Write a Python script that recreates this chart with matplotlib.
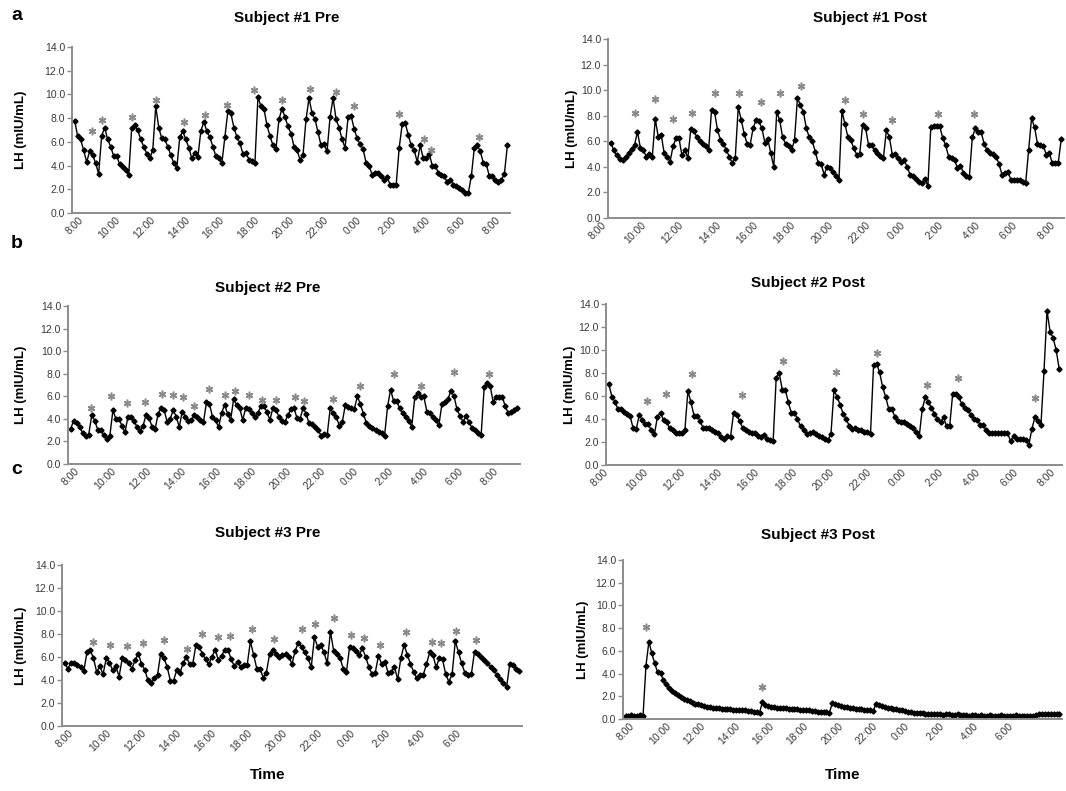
import matplotlib

matplotlib.use("Agg")
import matplotlib.pyplot as plt
import matplotlib.transforms as mtransforms
import numpy as np

plt.rcParams["font.family"] = ["Liberation Sans", "DejaVu Sans"]

# LH (mIU/mL), one sample about every 10 min from 8:00
S1_PRE = [7.8, 6.5, 6.2, 5.3, 4.3, 5.2, 4.9, 4.2, 3.3, 6.5,
          7.2, 6.2, 5.6, 4.8, 4.8, 4.1, 3.9, 3.6, 3.2, 7.2,
          7.4, 7.0, 6.2, 5.6, 5.0, 4.6, 5.3, 9.0, 7.2, 6.3,
          6.2, 5.6, 4.9, 4.2, 3.8, 6.4, 6.9, 6.2, 5.5, 4.6,
          5.1, 4.7, 6.9, 7.7, 6.9, 6.4, 5.6, 4.8, 4.6, 4.2,
          6.4, 8.6, 8.4, 7.2, 6.4, 5.9, 5.0, 5.1, 4.5, 4.4,
          4.2, 9.8, 9.0, 8.8, 7.4, 6.5, 5.7, 5.4, 7.9, 8.8,
          8.1, 7.3, 6.7, 5.6, 5.3, 4.5, 4.9, 7.9, 9.7, 8.4,
          7.9, 6.8, 5.7, 5.8, 5.2, 8.1, 9.7, 7.9, 7.2, 6.2,
          5.5, 8.1, 8.2, 7.1, 6.3, 5.8, 5.4, 4.2, 4.0, 3.2,
          3.4, 3.4, 3.1, 2.8, 3.0, 2.4, 2.4, 2.4, 5.5, 7.5,
          7.6, 6.6, 5.7, 5.3, 4.3, 5.7, 4.6, 4.6, 5.0, 4.0,
          4.0, 3.4, 3.2, 3.1, 2.6, 2.8, 2.4, 2.3, 2.1, 1.9,
          1.7, 1.7, 3.1, 5.5, 5.7, 5.2, 4.2, 4.1, 3.1, 3.1,
          2.8, 2.6, 2.8, 3.3, 5.7]
S1_PRE_STAR_IDX = [5.8, 9.1, 19, 27, 36.5, 43.3, 50.8, 59.8, 68.9, 78.2, 87.1, 92.8, 108, 116.1, 118.7, 134.5]
S1_PRE_STAR_LH = [6.9, 7.85, 8.1, 9.55, 7.7, 8.25, 9.1, 10.4, 9.55, 10.5, 10.2, 9.0, 8.35, 6.25, 5.35, 6.45]

S1_POST = [5.9, 5.3, 4.9, 4.6, 4.5, 4.75, 5.1, 5.4, 5.7, 6.75,
           5.45, 5.3, 4.8, 5.0, 4.75, 7.75, 6.35, 6.5, 5.1, 4.8,
           4.4, 5.6, 6.25, 6.25, 4.9, 5.3, 4.7, 6.95, 6.8, 6.35,
           6.0, 5.8, 5.6, 5.3, 8.45, 8.3, 6.9, 6.1, 5.8, 5.3,
           4.8, 4.3, 4.7, 8.65, 7.7, 6.6, 5.8, 5.7, 7.0, 7.65,
           7.55, 7.0, 5.9, 6.15, 5.05, 4.0, 8.3, 7.65, 6.3, 5.8,
           5.6, 5.3, 6.1, 9.4, 8.8,
           8.3, 7.0, 6.3, 6.0, 5.2, 4.3, 4.2, 3.4, 4.0, 3.9,
           3.6, 3.25, 3.0, 8.4, 7.35, 6.35, 6.1, 5.45, 4.95, 5.0,
           7.3, 7.0, 5.7, 5.7, 5.3, 5.05, 4.85, 4.7, 6.85, 6.35,
           4.95, 5.0, 4.7, 4.4, 4.5, 4.0, 3.4, 3.3, 3.05, 2.85,
           2.7, 3.05, 2.5, 7.1, 7.2, 7.2, 7.2, 6.25, 5.7, 4.8,
           4.7, 4.55, 3.9, 4.1, 3.55, 3.3, 3.2, 6.3, 7.0, 6.75,
           6.7, 5.8, 5.3, 5.05, 5.0, 4.8, 4.25, 3.4, 3.55, 3.6,
           3.0, 3.0, 3.0, 2.95, 2.8, 2.7, 5.3, 7.8, 7.1, 5.8,
           5.7, 5.6, 4.95, 5.05, 4.3, 4.3, 4.3, 6.15]
S1_POST_STAR_IDX = [8.25, 14.9, 21.1, 27.4, 35.3, 43.4, 50.8, 57.1, 64.2, 79, 85, 95, 110.4, 122.7]
S1_POST_STAR_LH = [8.23, 9.27, 7.74, 8.23, 9.79, 9.79, 9.09, 9.79, 10.34, 9.22, 8.13, 7.66, 8.13, 8.13]

S2_PRE = [3.1, 3.85, 3.6, 3.3, 2.75, 2.5, 2.6, 4.35, 3.85, 3.0,
          3.0, 2.6, 2.25, 2.5, 4.75, 4.0, 4.0, 3.4, 2.8, 4.2,
          4.2, 3.8, 3.3, 2.9, 3.4, 4.35, 4.05, 3.3, 3.1, 4.45,
          5.0, 4.75, 3.7, 4.0, 4.8, 4.15, 3.3, 4.65, 4.2, 3.85,
          3.9, 4.3, 4.2, 3.9, 3.7, 5.45, 5.3, 4.2, 3.9, 3.25,
          4.5, 5.25, 4.45, 3.9, 5.75, 5.25, 4.95, 3.9, 4.95, 4.85,
          4.55, 4.2, 4.5, 5.1, 5.1, 4.65, 3.9, 4.95, 4.8, 4.2,
          3.85,
          3.75, 4.35, 4.85, 4.95, 4.05, 4.0, 4.95, 4.45, 3.6, 3.55,
          3.3, 3.0, 2.5, 2.7, 2.6, 4.95, 4.5, 4.2, 3.4, 3.75,
          5.2, 5.05, 4.95, 4.9, 6.0, 5.3, 4.45, 3.6, 3.4, 3.2,
          3.0, 2.8, 2.75, 2.5, 5.1, 6.6, 5.55, 5.55, 4.95, 4.55,
          4.15, 3.85, 3.3, 5.9, 6.25, 5.9, 6.0, 4.65, 4.5, 4.2,
          3.9, 3.45, 5.3, 5.45, 5.75, 6.5, 6.0, 4.85, 4.25, 3.75,
          4.25, 3.7, 3.2, 3.0, 2.75, 2.6, 6.8, 7.2, 6.9, 5.45,
          5.95, 5.95, 5.95, 5.1, 4.5, 4.6, 4.8, 5.0]
S2_PRE_STAR_IDX = [6.6, 13.3, 18.8, 24.5, 30.4, 34, 37.2, 41, 45.8, 51.3, 54.3, 59.2, 63.3, 68,
                   74.25, 77.3, 86.8, 96, 107, 116.1, 127, 138.7]
S2_PRE_STAR_LH = [5.0, 6.03, 5.44, 5.5, 6.2, 6.12, 5.9, 5.1, 6.65, 6.1, 6.5, 6.1, 5.7, 5.7,
                  5.9, 5.6, 5.8, 6.9, 8.0, 6.9, 8.15, 7.95]

S2_POST = [7.05, 5.95, 5.5, 4.85, 4.85, 4.65, 4.45, 4.25, 3.2, 3.1,
           4.35, 3.9, 3.6, 3.55, 3.0, 2.7, 4.2, 4.55, 3.9, 3.7,
           3.2, 3.0, 2.8, 2.8, 2.75, 3.05, 6.45, 5.45, 4.3, 4.3,
           3.85, 3.2, 3.2, 3.2, 3.05, 2.9, 2.8, 2.4, 2.3, 2.5,
           2.45, 4.5, 4.35, 3.85, 3.2, 3.0, 2.9, 2.8, 2.8, 2.5,
           2.4, 2.6, 2.3, 2.2, 2.05, 7.55, 8.0, 6.55, 6.55, 5.45,
           4.5, 4.55, 4.0, 3.35, 3.0,
           2.7, 2.8, 2.9, 2.7, 2.5, 2.45, 2.3, 2.2, 2.7, 6.5,
           5.95, 5.25, 4.45, 4.0, 3.4, 3.1, 3.2, 3.0, 3.0, 2.9,
           2.9, 2.7, 8.7, 8.8, 8.05, 6.75, 5.9, 4.85, 4.85, 4.2,
           3.8, 3.7, 3.7, 3.6, 3.35, 3.2, 2.9, 2.5, 4.85, 5.9,
           5.5, 4.95, 4.45, 4.0, 3.7, 4.15, 3.35, 3.35, 6.2, 6.2,
           5.9, 5.3, 4.95, 4.8, 4.35, 4.0, 3.95, 3.5, 3.5, 3.0,
           2.8, 2.75, 2.75, 2.75, 2.75, 2.75, 2.8, 2.1, 2.5, 2.3,
           2.3, 2.3, 2.2, 1.75, 3.1, 4.15, 3.85, 3.5, 8.15, 13.4,
           11.6, 11.05, 10.0, 8.35]
S2_POST_STAR_IDX = [12.4, 18.7, 27.5, 43.9, 57.2, 74.6, 88, 104.7, 114.7, 140.2]
S2_POST_STAR_LH = [5.58, 6.16, 7.94, 6.1, 9.07, 8.08, 9.74, 6.92, 7.56, 5.81]

S3_PRE = [5.5, 5.0, 5.5, 5.5, 5.3, 5.1, 4.8, 6.45, 6.6, 5.9,
          4.7, 5.2, 4.5, 5.9, 5.5, 4.85, 5.2, 4.3, 5.9, 5.7,
          5.5, 5.0, 5.7, 6.3, 5.4, 4.9, 4.0, 3.7, 4.15, 4.45,
          6.3, 5.9, 5.15, 3.95, 3.95, 4.85, 4.6, 5.45, 6.0, 5.4,
          5.4, 7.05, 6.85, 6.3, 5.8, 5.4, 6.0, 6.65, 5.75, 6.1,
          6.65, 6.65, 5.8, 5.2, 5.6, 5.15, 5.3, 5.3, 7.35, 6.2,
          5.0, 5.0, 4.2, 4.65, 6.25, 6.65, 6.3, 6.0, 6.2, 6.3,
          6.0, 5.4, 6.55, 7.25, 6.85, 6.4, 5.9, 5.1, 7.7, 6.9,
          7.05, 6.4, 5.45, 8.2, 6.55, 6.25, 5.9, 5.0, 4.7, 6.9,
          6.75, 6.55, 6.2, 6.75, 6.0, 5.15, 4.5, 4.65, 6.1, 5.4,
          5.6, 4.65, 4.7, 5.15, 4.05, 5.9, 7.05, 6.2, 5.4, 4.7,
          4.15, 4.45, 4.45, 5.4, 6.4, 6.2, 5.1, 5.9, 5.8, 4.5,
          3.85, 4.5, 7.4, 6.4, 5.45, 4.6, 4.45, 4.5, 6.45, 6.3,
          6.0, 5.7, 5.45, 5.1, 4.9, 4.45, 4.05, 3.7, 3.35, 5.4,
          5.3, 5.0, 4.8]
S3_PRE_STAR_IDX = [8.7, 14.3, 19.5, 24.5, 31.1, 38.3, 42.8, 47.8, 51.6, 58.5, 65.4,
                   74.2, 78.2, 84, 89.4, 93.4, 98.6, 106.5, 114.7, 117.5, 122.2, 128.5]
S3_PRE_STAR_LH = [7.33, 7.04, 6.99, 7.22, 7.48, 6.67, 7.97, 7.77, 7.86, 8.43, 7.59,
                  8.41, 8.9, 9.36, 7.91, 7.68, 7.04, 8.14, 7.27, 7.19, 8.26, 7.48]

S3_POST = [0.3, 0.3, 0.35, 0.3, 0.3, 0.35, 0.3,
           4.7, 6.8, 5.8, 4.9, 4.1, 4.05, 3.4, 3.1, 2.75, 2.5,
           2.3, 2.1, 1.9, 1.8, 1.7, 1.55, 1.45, 1.35, 1.3, 1.2,
           1.15, 1.1, 1.05, 1.0, 1.0, 0.95, 0.9, 0.9, 0.85, 0.85,
           0.8, 0.8, 0.8, 0.75, 0.75, 0.7, 0.7, 0.65, 0.6, 0.55,
           1.5, 1.25, 1.15, 1.1, 1.05, 1.0, 1.0, 0.95, 0.95, 0.9,
           0.9, 0.85, 0.85, 0.8, 0.8, 0.75, 0.75, 0.7, 0.7, 0.65,
           0.65, 0.6, 0.6, 0.55,
           1.4, 1.3, 1.2, 1.15, 1.1, 1.05, 1.0, 0.95, 0.9, 0.9,
           0.85, 0.8, 0.75, 0.75, 0.7,
           1.3, 1.2, 1.15, 1.1, 1.0, 0.95, 0.9, 0.85, 0.8, 0.75,
           0.7, 0.65, 0.6, 0.55, 0.5, 0.5, 0.5, 0.45, 0.45, 0.45, 0.4,
           0.4, 0.4, 0.35, 0.4, 0.4, 0.35, 0.35, 0.4, 0.35, 0.35,
           0.35, 0.3, 0.35, 0.35, 0.3, 0.35, 0.3, 0.3, 0.35, 0.3,
           0.3, 0.3, 0.35, 0.3, 0.3, 0.3, 0.3, 0.35, 0.3, 0.3,
           0.25, 0.3, 0.3, 0.3, 0.35, 0.4, 0.45, 0.4, 0.4, 0.45,
           0.4, 0.4, 0.4]
S3_POST_STAR_IDX = [7, 47]
S3_POST_STAR_LH = [8.1, 2.8]

TIME_LABELS = ["8:00", "10:00", "12:00", "14:00", "16:00", "18:00", "20:00",
               "22:00", "0:00", "2:00", "4:00", "6:00", "8:00"]

W, H = 1066, 791
fig = plt.figure(figsize=(W / 100, H / 100), dpi=100)


def px_axes(left, top, right, bottom):
    return fig.add_axes([left / W, 1 - bottom / H, (right - left) / W, (bottom - top) / H])


def panel(box, series, star_idx, star_lh, span_h, n_labels, title, title_xy, ylab_x,
          label_dx=0, time_label=None):
    ax = px_axes(*box)
    y = np.array(series)
    step = span_h / (len(y) - 1)
    hrs = np.arange(len(y)) * step
    ax.plot(hrs, y, color="black", lw=1.0, marker="D", ms=2.6, mfc="black", mec="black")
    sx = np.array(star_idx) * step
    ax.plot(sx, star_lh, ls="none", marker=(6, 2, 0), ms=5.5, mec="#8a8a8a", mew=1.1)
    ax.set_yticks(np.arange(0, 14.1, 2))
    ax.set_yticklabels([f"{v:.1f}" for v in np.arange(0, 14.1, 2)])
    ax.set_xticks([])
    ax.set_ylim(0, 14)
    ax.set_xlim(-0.15, span_h + 0.15)
    # time labels, rotated, hung under the axis (shifted a few px where the source does)
    shift = mtransforms.ScaledTranslation(label_dx / 100, -2 / 100, fig.dpi_scale_trans)
    trans = ax.get_xaxis_transform() + shift
    for k, lab in enumerate(TIME_LABELS[:n_labels]):
        ax.text(2 * k, 0, lab, transform=trans, rotation=45, ha="center", va="top",
                fontsize=7.5, color="#3a3a3a")
    for s in ("top", "right"):
        ax.spines[s].set_visible(False)
    for s in ("left", "bottom"):
        ax.spines[s].set_color("#8c8c8c")
        ax.spines[s].set_linewidth(1.4)
    ax.tick_params(axis="y", direction="out", length=3.5, width=1, color="#8c8c8c",
                   labelsize=7.5, labelcolor="#3a3a3a", pad=1.5)
    fig.text(title_xy[0] / W, 1 - title_xy[1] / H, title, ha="center", va="center",
             fontsize=11, fontweight="bold")
    ymid = (box[1] + box[3]) / 2
    fig.text(ylab_x / W, 1 - ymid / H, "LH (mIU/mL)", rotation=90, ha="center", va="center",
             fontsize=9.5, fontweight="bold")
    if time_label is not None:
        fig.text(time_label[0] / W, 1 - time_label[1] / H, "Time", ha="center", va="center",
                 fontsize=11, fontweight="bold")
    return ax


panel((72, 47, 510, 213), S1_PRE, S1_PRE_STAR_IDX, S1_PRE_STAR_LH, 24.9, 13,
      "Subject #1 Pre", (287, 18), 21)
panel((608, 39, 1064, 218), S1_POST, S1_POST_STAR_IDX, S1_POST_STAR_LH, 24.1, 13,
      "Subject #1 Post", (870, 18), 572, label_dx=-13)
panel((68, 306, 520, 464), S2_PRE, S2_PRE_STAR_IDX, S2_PRE_STAR_LH, 25.6, 13,
      "Subject #2 Pre", (268, 288), 21)
panel((606, 304, 1062, 465), S2_POST, S2_POST_STAR_IDX, S2_POST_STAR_LH, 24.2, 13,
      "Subject #2 Post", (808, 283), 570, label_dx=-9)
panel((62, 565, 522, 726), S3_PRE, S3_PRE_STAR_IDX, S3_PRE_STAR_LH, 25.8, 12,
      "Subject #3 Pre", (268, 533), 21, time_label=(268, 775))
panel((623, 560, 1062, 719), S3_POST, S3_POST_STAR_IDX, S3_POST_STAR_LH, 25.2, 12,
      "Subject #3 Post", (818, 535), 583, time_label=(843, 775))

for letter, ypx in (("a", 16), ("b", 244), ("c", 470)):
    fig.text(17 / W, 1 - ypx / H, letter, ha="center", va="center", fontsize=14, fontweight="bold")

fig.savefig("out.png", dpi=100)
